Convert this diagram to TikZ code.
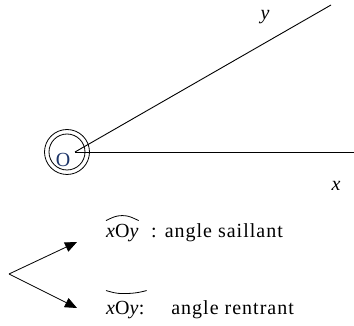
\documentclass[tikz,border=0pt]{standalone}
\usepackage{fontspec}
\setmainfont{Liberation Serif}
\usetikzlibrary{arrows.meta, positioning}
\definecolor{oblue}{HTML}{1C3468}

\begin{document}
\begin{tikzpicture}[x=1pt, y=-1pt, >={Triangle[length=12pt, width=10pt]},
  lbl/.style={font=\fontsize{20}{24}\selectfont, inner sep=0pt},
  spaced/.style={font=\fontsize{20}{24}\selectfont\addfontfeatures{LetterSpace=5}, inner sep=0pt},
  ray/.style={line width=0.9pt}]

\useasboundingbox (0,0) rectangle (354,326);

% Angle
\coordinate (O) at (75,152);
\coordinate (xend) at (354,152);
\coordinate (yend) at (331,5);
\draw[ray] (O) -- (xend);
\draw[ray] (O) -- (yend);
\node[lbl, font=\fontsize{20}{24}\selectfont\itshape] (xlab) at (336,186) {x};
\node[lbl, font=\fontsize{20}{24}\selectfont\itshape] (ylab) at (265,17) {y};

% Double circle round the vertex
\draw[line width=0.8pt] (67,152) circle (22.5);
\draw[line width=0.8pt] (67,152) circle (18);
\node[lbl, text=oblue, font=\fontsize{20}{24}\selectfont] (olab) at (63,160) {O};

% Salient angle
\node[lbl, anchor=base west] (aS) at (106,238) {\textit{x}O\textit{y}};
\node[spaced, anchor=base west] (tS) at (151,238) {: angle saillant};
\draw[line width=0.8pt] ([yshift=4pt]aS.north west) to[out=25,in=180]
  ([yshift=9pt]aS.north) to[out=0,in=155] ([yshift=4pt]aS.north east);

% Reflex angle
\node[lbl, anchor=base west] (aR) at (106,315) {\textit{x}O\textit{y}};
\node[spaced, anchor=base west] (tR) at (aR.base east) {:\hspace{27pt}angle rentrant};
\draw[line width=0.8pt] ([yshift=11pt]aR.north west) to[out=-15,in=180]
  ([yshift=8pt]aR.north) to[out=0,in=195] ([xshift=8pt, yshift=11pt]aR.north east);

% Fork
\coordinate (fork) at (9,274);
\coordinate (tipS) at (77,242);
\coordinate (tipR) at (77,308);
\draw[->, line width=0.8pt] (fork) -- (tipS);
\draw[->, line width=0.8pt] (fork) -- (tipR);

\end{tikzpicture}
\end{document}
